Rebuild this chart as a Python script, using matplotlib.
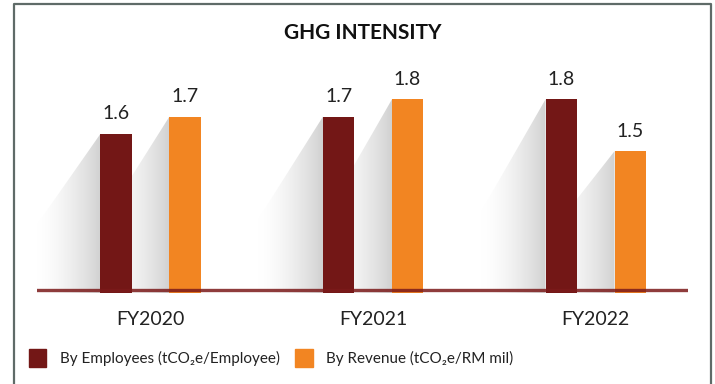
import numpy as np
import matplotlib.pyplot as plt
from matplotlib.patches import Polygon, Patch

plt.rcParams['font.family'] = ['Lato', 'DejaVu Sans']

# --- data ---
years = ['FY2020', 'FY2021', 'FY2022']
by_employees = [1.6, 1.7, 1.8]
by_revenue = [1.7, 1.8, 1.5]
series_names = ['By Employees (tCO\u2082e/Employee)', 'By Revenue (tCO\u2082e/RM mil)']
colors = ['#731716', '#f28522']

fig = plt.figure(figsize=(7.15, 3.84), dpi=100)

# outer frame
fig.add_artist(plt.Line2D([0.019, 0.019, 0.995, 0.995], [0.0, 0.989, 0.989, 0.0],
                          transform=fig.transFigure, color='#5f6b68', lw=1.6))

ax = fig.add_axes([37 / 715, 1 - 293 / 384, 651 / 715, 233 / 384])
ymin = 0.68
ax.set_xlim(-0.51, 2.415)
ax.set_ylim(ymin, ymin + 233 / 173)
for s in ax.spines.values():
    s.set_visible(False)
ax.set_yticks([])

x = np.arange(len(years))
w = 0.14
off = 0.155
shadow_w = 0.29


def draw_shadow(xl, top):
    # soft grey wedge falling away to the left of a bar
    base = ymin
    mid = base + (top - base) * 0.42
    poly = Polygon([(xl, top), (xl - shadow_w, mid), (xl - shadow_w, base), (xl, base)],
                   closed=True, facecolor='none', edgecolor='none')
    ax.add_patch(poly)
    grad = np.linspace(0, 1, 256).reshape(1, -1) ** 1.6
    rgb = np.ones((1, 256, 4))
    rgb[..., :3] = (1 - 0.18 * grad)[..., None]
    im = ax.imshow(rgb, extent=[xl - shadow_w, xl, base, top], aspect='auto',
                   interpolation='bilinear', zorder=1)
    im.set_clip_path(poly)


for i in range(len(years)):
    draw_shadow(x[i] - off - w / 2, by_employees[i])
    draw_shadow(x[i] + off - w / 2, by_revenue[i])

b1 = ax.bar(x - off, by_employees, w, bottom=0, color=colors[0], zorder=4)
b2 = ax.bar(x + off, by_revenue, w, bottom=0, color=colors[1], zorder=3)

for bars, vals in [(b1, by_employees), (b2, by_revenue)]:
    for b, v in zip(bars, vals):
        ax.annotate(f'{v:.1f}', (b.get_x() + b.get_width() / 2, v), xytext=(0, 10.5),
                    textcoords='offset points', ha='center', va='baseline',
                    fontsize=14, color='#222222')

ax.axhline(ymin + 3 / 173, color='#7b1a1a', lw=2.4, alpha=0.85, zorder=5)

ax.set_xticks(x)
ax.set_xticklabels(years, fontsize=14, color='#222222')
ax.tick_params(axis='x', length=0, pad=13)

fig.text(0.508, 1 - 33 / 384, 'GHG INTENSITY', ha='center', va='center',
         fontsize=15, fontweight='bold', color='#111111')

# legend
handles = [Patch(color=c) for c in colors]
fig.legend(handles, series_names, loc='center left', bbox_to_anchor=(24 / 715, 1 - 358 / 384),
           ncol=2, frameon=False, fontsize=11, handlelength=1.15, handleheight=1.5,
           handletextpad=0.9, columnspacing=1.0, labelcolor='#222222',
           borderaxespad=0, borderpad=0.3)

fig.savefig('out.png', dpi=100)
